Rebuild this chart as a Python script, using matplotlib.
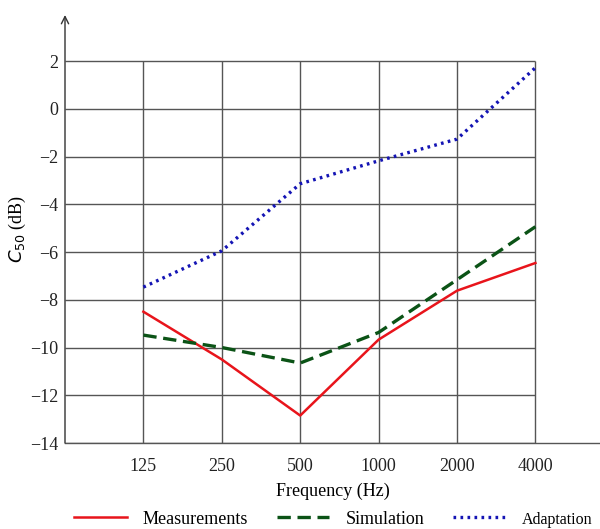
import matplotlib
matplotlib.use("Agg")
import matplotlib.pyplot as plt

# donnees
freqs = ["125", "250", "500", "1000", "2000", "4000"]
mesures = [-8.5, -10.5, -12.85, -9.67, -7.62, -6.46]
simulation = [-9.48, -10.0, -10.65, -9.37, -7.16, -4.94]
adaptation = [-7.47, -5.95, -3.14, -2.18, -1.27, 1.72]
yticks = [2, 0, -2, -4, -6, -8, -10, -12, -14]

plt.rcParams['font.family'] = ['Liberation Serif', 'DejaVu Serif']
plt.rcParams['font.size'] = 13

fig = plt.figure(figsize=(6, 5.29), dpi=100)
ax = fig.add_axes([65/600, 86/529, 535/600, 428/529])

pos = list(range(1, len(freqs) + 1))
gris = '#555555'

# grille
ax.hlines(yticks, 0, pos[-1], color=gris, lw=1.0, zorder=1)
ax.vlines(pos, min(yticks), max(yticks), color=gris, lw=1.0, zorder=1)

ax.plot(pos, mesures, color='#e8141b', lw=1.8, label='Measurements', zorder=3)
ax.plot(pos, simulation, color='#0b5316', lw=2.4, ls=(0, (4, 2)), label='Simulation', zorder=3)
ax.plot(pos, adaptation, color='#1414b4', lw=2.4, ls=(0, (0.8, 1.3)), label='Adaptation', zorder=3)

ax.set_xlim(0, 535/78.4)
ax.set_ylim(-14, 2 + 46/23.85)
ax.set_xticks(pos)
ax.set_xticklabels(freqs)
ax.set_yticks(yticks)
ax.set_yticklabels([str(v).replace('-', '\u2212') for v in yticks])
ax.tick_params(axis='x', length=0, pad=11, labelsize=13, colors='#222222')
ax.tick_params(axis='y', length=0, pad=5, labelsize=13, colors='#222222')

for s in ['top', 'right', 'left']:
    ax.spines[s].set_visible(False)
ax.spines['bottom'].set_color(gris)
ax.spines['bottom'].set_linewidth(1.0)
# axe vertical avec fleche
ax.annotate('', xy=(0, 1), xytext=(0, 0), xycoords='axes fraction',
            arrowprops=dict(arrowstyle='->', color='#333333', lw=1.0,
                            shrinkA=0, shrinkB=0))

ax.set_xlabel('Frequency (Hz)', fontsize=13, labelpad=5)
ax.set_ylabel('$C_{50}$ (dB)', fontsize=13, labelpad=1)

leg = fig.legend(loc='lower left', bbox_to_anchor=(58/600, -15/529), ncol=3,
                 frameon=False, handlelength=2.9, handletextpad=0.9,
                 columnspacing=1.6, fontsize=13)
# le dernier libelle est un peu plus petit sur l'original
leg.get_texts()[2].set_fontsize(11.5)

fig.savefig('out.png', dpi=100)
